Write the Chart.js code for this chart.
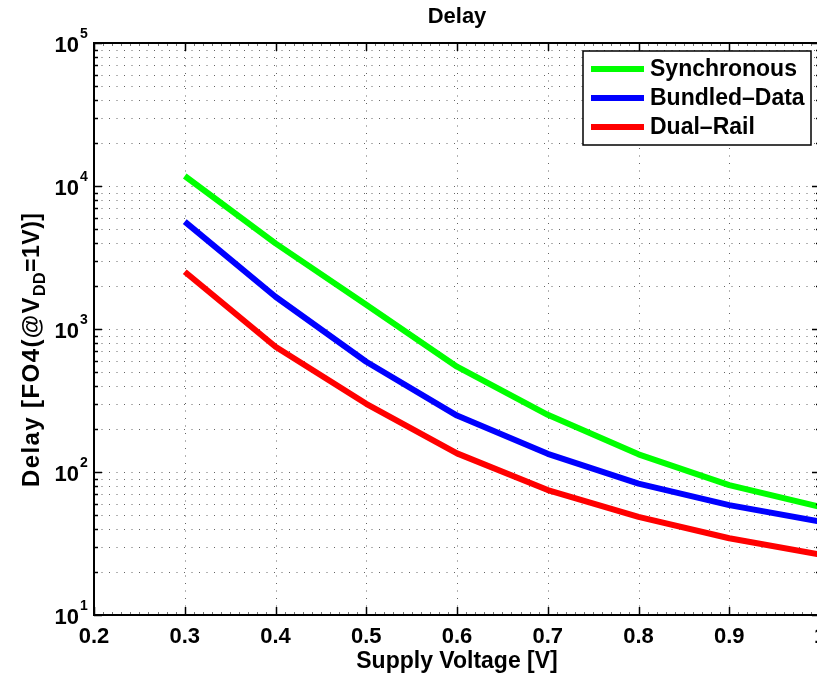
<!DOCTYPE html>
<html>
<head>
<meta charset="utf-8">
<script src="https://cdn.jsdelivr.net/npm/chart.js@4/dist/chart.umd.min.js"></script>
<style>
  html, body { margin: 0; padding: 0; background: #ffffff; overflow: hidden; }
  #wrap { width: 840px; height: 677px; }
</style>
</head>
<body>
<div id="wrap"><canvas id="chart" width="840" height="677"></canvas></div>
<script>
// Supply voltage sweep [V]
const voltages = [0.3, 0.4, 0.5, 0.6, 0.7, 0.8, 0.9, 1.0];
// Delay in FO4 units (normalised to VDD = 1 V)
const synchronous = [11750, 3970, 1480, 545, 251, 133, 81, 57];
const bundledData = [5630, 1680, 590, 248, 134, 83, 58.7, 45];
const dualRail = [2515, 752, 300, 135, 74.8, 48.6, 34.4, 26.5];

const seriesNames = ['Synchronous', 'Bundled\u2013Data', 'Dual\u2013Rail'];
const seriesColors = ['#00ff00', '#0000ff', '#ff0000'];

// Axis ticks
const xTicks = [0.2, 0.3, 0.4, 0.5, 0.6, 0.7, 0.8, 0.9, 1.0];
const xTickLabels = ['0.2', '0.3', '0.4', '0.5', '0.6', '0.7', '0.8', '0.9', '1'];
const yDecades = [1, 2, 3, 4, 5];

const FONT = '"Liberation Sans", Arial, Helvetica, sans-serif';

function pts(ys) { return voltages.map((v, i) => ({ x: v, y: ys[i] })); }

// tick values for the log axis: decades plus the 2..9 minors
function yGridValues() {
  const out = [];
  for (let d = yDecades[0]; d < yDecades[yDecades.length - 1]; d++) {
    for (let m = 1; m <= 9; m++) out.push(m * Math.pow(10, d));
  }
  out.push(Math.pow(10, yDecades[yDecades.length - 1]));
  return out;
}

// draws text glyph by glyph with extra tracking, returns advance
function spacedText(ctx, text, x0, y0, track) {
  let cx = x0;
  for (const ch of text) {
    ctx.fillText(ch, cx, y0);
    cx += ctx.measureText(ch).width + track;
  }
  return cx - x0;
}

const matlabAxes = {
  id: 'matlabAxes',
  beforeDatasetsDraw(chart) {
    const { ctx, chartArea: a, scales: { x, y } } = chart;
    ctx.save();
    ctx.strokeStyle = 'rgba(0,0,0,0.6)';
    ctx.lineWidth = 1;
    ctx.setLineDash([1, 6.5]);
    // dotted horizontal grid (major + minor)
    yGridValues().forEach(v => {
      const py = Math.round(y.getPixelForValue(v)) + 0.5;
      if (py <= a.top + 1 || py >= a.bottom - 1) return;
      ctx.beginPath(); ctx.moveTo(a.left, py); ctx.lineTo(a.right, py); ctx.stroke();
    });
    // dotted vertical grid
    xTicks.forEach(v => {
      const px = Math.round(x.getPixelForValue(v)) + 0.5;
      if (px <= a.left + 1 || px >= a.right - 1) return;
      ctx.beginPath(); ctx.moveTo(px, a.top); ctx.lineTo(px, a.bottom); ctx.stroke();
    });
    ctx.restore();
  },
  afterDatasetsDraw(chart) {
    const { ctx, chartArea: a, scales: { x, y } } = chart;
    ctx.save();
    ctx.setLineDash([]);
    ctx.strokeStyle = '#000';

    // axes box
    ctx.lineWidth = 2;
    ctx.strokeRect(a.left, a.top, a.right - a.left, a.bottom - a.top);

    // inward tick marks
    ctx.lineWidth = 1.5;
    ctx.beginPath();
    xTicks.forEach(v => {
      const px = Math.round(x.getPixelForValue(v)) + 0.5;
      ctx.moveTo(px, a.bottom); ctx.lineTo(px, a.bottom - 8);
      ctx.moveTo(px, a.top); ctx.lineTo(px, a.top + 8);
    });
    yGridValues().forEach(v => {
      const py = Math.round(y.getPixelForValue(v)) + 0.5;
      const len = Number.isInteger(Math.log10(v)) ? 8 : 4;
      ctx.moveTo(a.left, py); ctx.lineTo(a.left + len, py);
      ctx.moveTo(a.right, py); ctx.lineTo(a.right - len, py);
    });
    ctx.stroke();
    // small x minor ticks
    ctx.lineWidth = 1;
    ctx.strokeStyle = 'rgba(0,0,0,0.55)';
    ctx.beginPath();
    for (let k = 21; k < 100; k++) {
      if (k % 10 === 0) continue;
      const px = Math.round(x.getPixelForValue(k / 100)) + 0.5;
      ctx.moveTo(px, a.bottom); ctx.lineTo(px, a.bottom - 3);
      ctx.moveTo(px, a.top); ctx.lineTo(px, a.top + 3);
    }
    ctx.stroke();

    ctx.fillStyle = '#000';
    // x tick labels
    ctx.font = 'bold 22px ' + FONT;
    ctx.textAlign = 'center';
    ctx.textBaseline = 'alphabetic';
    xTicks.forEach((v, i) => {
      ctx.fillText(xTickLabels[i], x.getPixelForValue(v), a.bottom + 28);
    });

    // y tick labels 10^n
    yDecades.forEach(d => {
      const py = y.getPixelForValue(Math.pow(10, d));
      ctx.font = 'bold 22px ' + FONT;
      ctx.textAlign = 'right';
      ctx.fillText('10', a.left - 15, py + 9);
      ctx.font = 'bold 14px ' + FONT;
      ctx.textAlign = 'left';
      ctx.fillText(String(d), a.left - 14, py - 5);
    });

    // title
    ctx.font = 'bold 22px ' + FONT;
    ctx.textAlign = 'center';
    ctx.fillText('Delay', (a.left + a.right) / 2, 23);

    // x axis title
    ctx.font = 'bold 23px ' + FONT;
    ctx.fillText('Supply Voltage [V]', (a.left + a.right) / 2, 668);

    // y axis title with subscript
    ctx.save();
    ctx.translate(39, 487);
    ctx.rotate(-Math.PI / 2);
    ctx.textAlign = 'left';
    let cx = 0;
    const parts = [
      ['Delay [FO4(@V', 24, 0, 1.4],
      ['DD', 16, 6, 0.5],
      ['=1V)]', 23, 0, 0.5]
    ];
    parts.forEach(([t, sz, dy, tr]) => {
      ctx.font = 'bold ' + sz + 'px ' + FONT;
      cx += spacedText(ctx, t, cx, dy, tr);
    });
    ctx.restore();

    // legend
    const lx = 583, ly = 51, lw = 228, lh = 94;
    ctx.fillStyle = '#fff';
    ctx.fillRect(lx, ly, lw, lh);
    ctx.lineWidth = 1.5;
    ctx.strokeStyle = '#000';
    ctx.strokeRect(lx, ly, lw, lh);
    chart.data.datasets.forEach((ds, i) => {
      const yy = 69 + i * 29;
      ctx.strokeStyle = ds.borderColor;
      ctx.lineWidth = 6;
      ctx.beginPath(); ctx.moveTo(591, yy); ctx.lineTo(644, yy); ctx.stroke();
      ctx.fillStyle = '#000';
      ctx.font = 'bold 23px ' + FONT;
      ctx.textAlign = 'left';
      ctx.textBaseline = 'middle';
      ctx.fillText(ds.label, 650, yy + 1);
    });
    ctx.restore();
  }
};

new Chart(document.getElementById('chart').getContext('2d'), {
  type: 'line',
  data: {
    datasets: [
      { label: seriesNames[0], data: pts(synchronous), borderColor: seriesColors[0] },
      { label: seriesNames[1], data: pts(bundledData), borderColor: seriesColors[1] },
      { label: seriesNames[2], data: pts(dualRail), borderColor: seriesColors[2] }
    ]
  },
  options: {
    responsive: false,
    animation: false,
    devicePixelRatio: 1,
    layout: { padding: { top: 43, right: 20, left: 0, bottom: 0 } },
    plugins: { legend: { display: false }, title: { display: false }, tooltip: { enabled: false } },
    elements: {
      point: { radius: 0, hoverRadius: 0 },
      line: { borderWidth: 6, tension: 0, fill: false, borderJoinStyle: 'round', borderCapStyle: 'butt' }
    },
    scales: {
      x: {
        type: 'linear', min: 0.2, max: 1.0,
        grid: { display: false }, border: { display: false },
        ticks: { display: false },
        afterBuildTicks(s) { s.ticks = xTicks.map(v => ({ value: v })); },
        afterFit(s) { s.height = 62; }
      },
      y: {
        type: 'logarithmic', min: 10, max: 100000,
        grid: { display: false }, border: { display: false },
        ticks: { display: false },
        afterFit(s) { s.width = 94; }
      }
    }
  },
  plugins: [matlabAxes]
});
</script>
</body>
</html>
